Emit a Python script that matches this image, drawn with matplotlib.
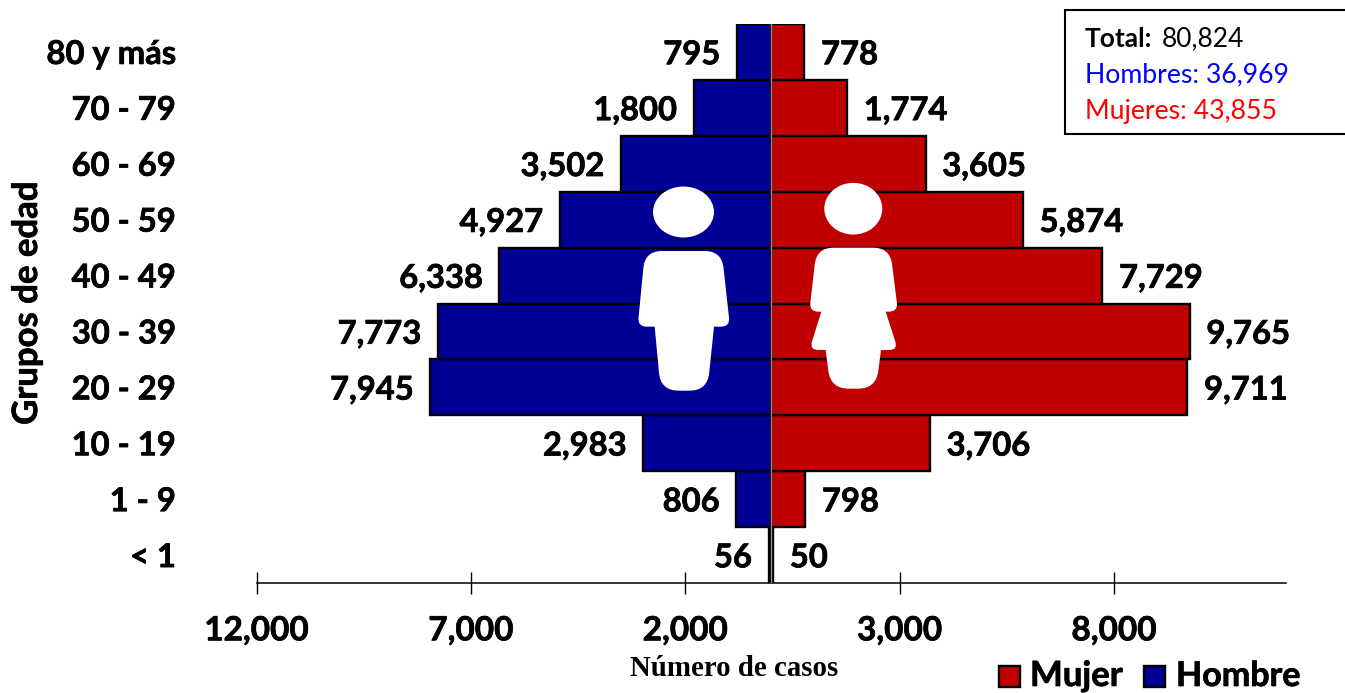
import matplotlib
matplotlib.use("Agg")
import matplotlib.pyplot as plt
import matplotlib.patheffects as pe
from matplotlib.patches import Ellipse, PathPatch, Rectangle
from matplotlib.path import Path
import numpy as np

plt.rcParams['font.family'] = ['Lato', 'DejaVu Sans']

# age groups, bottom to top
grupos = ['< 1', '1 - 9', '10 - 19', '20 - 29', '30 - 39', '40 - 49', '50 - 59', '60 - 69', '70 - 79', '80 y más']
hombres = [56, 806, 2983, 7945, 7773, 6338, 4927, 3502, 1800, 795]
mujeres = [50, 798, 3706, 9711, 9765, 7729, 5874, 3605, 1774, 778]
ticks = [-12000, -7000, -2000, 3000, 8000]
tick_labels = ['12,000', '7,000', '2,000', '3,000', '8,000']
total = '80,824'
total_hombres = '36,969'
total_mujeres = '43,855'

AZUL = '#000096'
ROJO = '#C00000'
W, H = 1345, 693
# Lato bold is a bit lighter than the reference text
GRUESO = [pe.withStroke(linewidth=0.5, foreground='black')]


def rounded(corners, radii):
    # closed path with rounded corners, pixel coordinates
    n = len(corners)
    verts, codes = [], []
    for i in range(n):
        p = np.array(corners[i], float)
        a = np.array(corners[i - 1], float)
        b = np.array(corners[(i + 1) % n], float)
        r = radii[i]
        p1 = p + (a - p) / np.linalg.norm(a - p) * r
        p2 = p + (b - p) / np.linalg.norm(b - p) * r
        verts += [p1, p, p2]
        codes += [Path.MOVETO if i == 0 else Path.LINETO, Path.CURVE3, Path.CURVE3]
    verts.append(verts[0])
    codes.append(Path.CLOSEPOLY)
    return Path(verts, codes)


def zoomed(points):
    return [(620 + x / 3, 170 + y / 3) for x, y in points]


fig = plt.figure(figsize=(W / 100, H / 100), dpi=100)
ax = fig.add_axes([256.5 / W, 1 - 583 / H, (1286 - 257) / W, (583 - 24) / H])

y = np.arange(len(grupos))
ax.barh(y, [-v for v in hombres], height=1, color=AZUL, edgecolor='black', linewidth=1.7, zorder=2)
ax.barh(y, mujeres, height=1, color=ROJO, edgecolor='black', linewidth=1.7, zorder=2)
ax.axvline(0, color='#8c8c8c', linewidth=1, zorder=3)

ax.set_xlim(-12000, 12000)
ax.set_ylim(-0.5, 9.5)

for i in y:
    ax.annotate(f'{hombres[i]:,}', (-hombres[i], i), xytext=(-12, -2), textcoords='offset points',
                ha='right', va='center', fontsize=23.6, fontweight='bold', path_effects=GRUESO)
    ax.annotate(f'{mujeres[i]:,}', (mujeres[i], i), xytext=(12, -2), textcoords='offset points',
                ha='left', va='center', fontsize=23.6, fontweight='bold', path_effects=GRUESO)

for s in ['top', 'right', 'left']:
    ax.spines[s].set_visible(False)
ax.spines['bottom'].set_linewidth(1.1)
ax.set_xticks(ticks)
ax.set_xticklabels(tick_labels, fontsize=24, fontweight='bold', path_effects=GRUESO)
ax.tick_params(axis='x', direction='inout', length=16, width=1, pad=16)
ax.set_yticks(y)
ax.set_yticklabels(grupos, fontsize=23.6, fontweight='bold', path_effects=GRUESO)
ax.tick_params(axis='y', length=0, pad=58)

# overlay in pixel coordinates for the decorations
ov = fig.add_axes([0, 0, 1, 1], zorder=5)
ov.set_xlim(0, W)
ov.set_ylim(H, 0)
ov.axis('off')

ov.text(27, 303, 'Grupos de edad', rotation=90, ha='center', va='center', fontsize=25, fontweight='bold',
        path_effects=GRUESO)
ov.text(734, 668, 'Número de casos', ha='center', va='center', fontsize=20.8, fontweight='bold',
        family='Liberation Serif')

# silhouettes
ov.add_patch(Ellipse((683.5, 212), 61, 51, color='white', lw=0))
ov.add_patch(Ellipse((853.3, 208.7), 58, 51.7, color='white', lw=0))
hombre = zoomed([(75, 243), (305, 243), (330, 470), (282, 470), (262, 662), (122, 662), (104, 470), (53, 470)])
ov.add_patch(PathPatch(rounded(hombre, [17, 17, 9, 0, 18, 18, 0, 9]), color='white', lw=0))
mujer = zoomed([(590, 233), (810, 233), (834, 425), (797, 425), (834, 540), (783, 540), (768, 656),
                (632, 656), (617, 540), (568, 540), (604, 425), (568, 425)])
ov.add_patch(PathPatch(rounded(mujer, [17, 17, 9, 0, 9, 0, 18, 18, 0, 9, 0, 9]), color='white', lw=0))

# totals box, runs off the right edge
ov.add_patch(Rectangle((1064.5, 10), 300, 124, facecolor='white', edgecolor='black', linewidth=1.5))
ov.text(1085, 39, 'Total:', ha='left', va='center', fontsize=19, fontweight='bold')
ov.text(1162, 39, total, ha='left', va='center', fontsize=19)
ov.text(1085, 75, f'Hombres: {total_hombres}', ha='left', va='center', fontsize=19.2, color='#0000FF')
ov.text(1085, 111, f'Mujeres: {total_mujeres}', ha='left', va='center', fontsize=19.2, color='#FF0000')

# legend
ov.add_patch(Rectangle((998.5, 665.5), 21, 21, facecolor=ROJO, edgecolor='black', linewidth=1.7))
ov.add_patch(Rectangle((1144, 665.5), 21, 21, facecolor=AZUL, edgecolor='black', linewidth=1.7))
ov.text(1030, 686, 'Mujer', ha='left', va='baseline', fontsize=25, fontweight='bold', path_effects=GRUESO)
ov.text(1176, 686, 'Hombre', ha='left', va='baseline', fontsize=24.5, fontweight='bold', path_effects=GRUESO)

fig.savefig('out.png', dpi=100)
